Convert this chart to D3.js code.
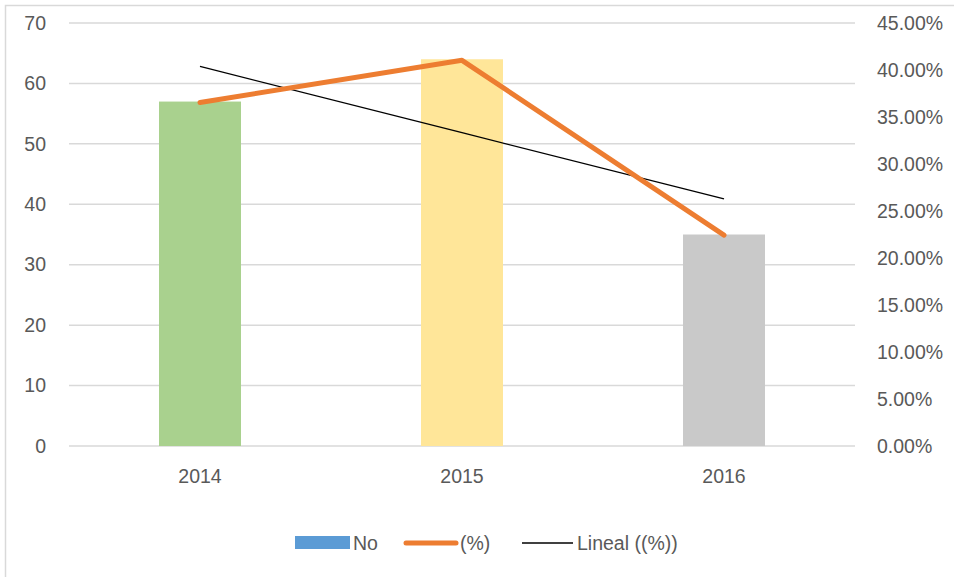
<!DOCTYPE html>
<html>
<head>
<meta charset="utf-8">
<script src="https://cdn.jsdelivr.net/npm/d3@7"></script>
<style>
  body { margin: 0; background: #fff; }
  svg text { font-family: "Liberation Sans", Arial, sans-serif; fill: #595959; }
</style>
</head>
<body>
<script>
// chart data
const years = ['2014', '2015', '2016'];
const noValues = [57, 64, 35];
const pctValues = [36.54, 41.03, 22.44];
const trendValues = [40.38, 33.33, 26.28];
const barColors = ['#a9d18e', '#ffe699', '#c9c9c9'];
const leftTicks = [0, 10, 20, 30, 40, 50, 60, 70];
const rightTicks = [0, 5, 10, 15, 20, 25, 30, 35, 40, 45];

const svgWidth = 954;
const svgHeight = 577;
const margin = {top: 23, right: 99, bottom: 131, left: 69};
const chartWidth = svgWidth - margin.left - margin.right;
const chartHeight = svgHeight - margin.top - margin.bottom;
const fontSize = '19.5px';

const svg = d3.select('body').append('svg')
    .attr('width', svgWidth)
    .attr('height', svgHeight);

// outer chart border
svg.append('rect')
    .attr('x', 5.5).attr('y', 5.5)
    .attr('width', svgWidth + 20).attr('height', svgHeight + 20)
    .attr('fill', 'none')
    .attr('stroke', '#d9d9d9')
    .attr('stroke-width', 1.5);

const g = svg.append('g')
    .attr('transform', `translate(${margin.left}, ${margin.top})`);

const scaleX = d3.scaleBand().domain(years).range([0, chartWidth]);
const scaleY = d3.scaleLinear().domain([0, 70]).range([chartHeight, 0]);
const scaleY2 = d3.scaleLinear().domain([0, 45]).range([chartHeight, 0]);
const barWidth = scaleX.bandwidth() * 0.313;
const cx = d => scaleX(d) + scaleX.bandwidth() / 2;

// gridlines
g.selectAll('line.grid')
    .data(leftTicks)
    .join('line')
    .attr('class', 'grid')
    .attr('x1', 0).attr('x2', chartWidth)
    .attr('y1', d => scaleY(d)).attr('y2', d => scaleY(d))
    .attr('stroke', '#d9d9d9')
    .attr('stroke-width', 1.5);

// bars
g.selectAll('rect.bar')
    .data(years)
    .join('rect')
    .attr('class', 'bar')
    .attr('x', d => cx(d) - barWidth / 2)
    .attr('width', barWidth)
    .attr('y', (d, i) => scaleY(noValues[i]))
    .attr('height', (d, i) => chartHeight - scaleY(noValues[i]))
    .attr('fill', (d, i) => barColors[i]);

// linear trend
g.append('path')
    .datum(years)
    .attr('fill', 'none')
    .attr('stroke', '#000')
    .attr('stroke-width', 1.3)
    .attr('d', d3.line().x(d => cx(d)).y((d, i) => scaleY2(trendValues[i])));

// (%) line
g.append('path')
    .datum(years)
    .attr('fill', 'none')
    .attr('stroke', '#ed7d31')
    .attr('stroke-width', 5)
    .attr('stroke-linecap', 'round')
    .attr('stroke-linejoin', 'round')
    .attr('d', d3.line().x(d => cx(d)).y((d, i) => scaleY2(pctValues[i])));

// left axis
const axisLeft = g.append('g')
    .call(d3.axisLeft(scaleY).tickValues(leftTicks).tickSize(0).tickPadding(23));
axisLeft.select('.domain').remove();
axisLeft.selectAll('text').style('font-size', fontSize);

// right axis
const axisRight = g.append('g')
    .attr('transform', `translate(${chartWidth}, 0)`)
    .call(d3.axisRight(scaleY2).tickValues(rightTicks).tickSize(0).tickPadding(22)
        .tickFormat(d => d.toFixed(2) + '%'));
axisRight.select('.domain').remove();
axisRight.selectAll('text').style('font-size', fontSize);

// bottom axis
const axisBottom = g.append('g')
    .attr('transform', `translate(0, ${chartHeight})`)
    .call(d3.axisBottom(scaleX).tickSize(0).tickPadding(23));
axisBottom.select('.domain').remove();
axisBottom.selectAll('text').style('font-size', fontSize);

// legend
const legend = svg.append('g').attr('transform', 'translate(0, 543)');
legend.append('rect')
    .attr('x', 295).attr('y', -7).attr('width', 55).attr('height', 13)
    .attr('fill', '#5b9bd5');
legend.append('text').attr('x', 353).attr('y', 0).attr('dy', '0.35em')
    .style('font-size', fontSize).text('No');
legend.append('line')
    .attr('x1', 406).attr('x2', 456).attr('y1', 0).attr('y2', 0)
    .attr('stroke', '#ed7d31').attr('stroke-width', 5).attr('stroke-linecap', 'round');
legend.append('text').attr('x', 460).attr('y', 0).attr('dy', '0.35em')
    .style('font-size', fontSize).text('(%)');
legend.append('line')
    .attr('x1', 522).attr('x2', 573).attr('y1', 0).attr('y2', 0)
    .attr('stroke', '#000').attr('stroke-width', 1.3);
legend.append('text').attr('x', 577).attr('y', 0).attr('dy', '0.35em')
    .style('font-size', fontSize).text('Lineal ((%))');
</script>
</body>
</html>
